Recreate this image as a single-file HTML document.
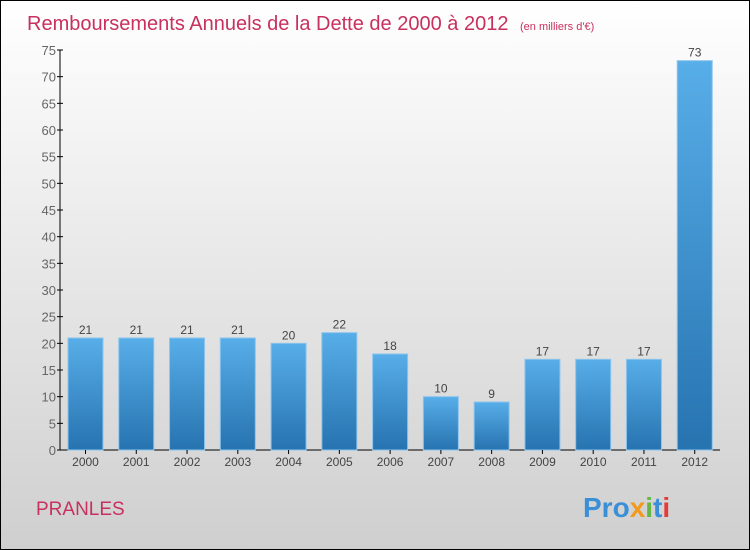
<!DOCTYPE html>
<html><head><meta charset="utf-8"><style>
body{margin:0}
#c{width:748px;height:548px;border:1px solid #000;background:linear-gradient(#fff,#cfcfcf);position:relative;font-family:"Liberation Sans",sans-serif;overflow:hidden}
</style></head><body>
<div id="c">
<svg width="748" height="548" id="s">
<defs><linearGradient id="g" x1="0" y1="0" x2="0" y2="1"><stop offset="0" stop-color="#58aee8"/><stop offset="1" stop-color="#2673b0"/></linearGradient></defs>
<text x="26" y="29" font-size="20" fill="#c8305f">Remboursements Annuels de la Dette de 2000 à 2012 <tspan font-size="11" dx="6">(en milliers d'€)</tspan></text>
<text x="35" y="514" font-size="19" fill="#c8305f">PRANLES</text>
<text x="582" y="516" font-size="28" font-weight="bold"><tspan fill="#3b8fd6">Pro</tspan><tspan fill="#f29a1e">x</tspan><tspan fill="#64b742">i</tspan><tspan fill="#3b8fd6">t</tspan><tspan fill="#e23b3b">i</tspan></text>
<g id="plot"></g>
</svg></div>
<script>
const categories=["2000","2001","2002","2003","2004","2005","2006","2007","2008","2009","2010","2011","2012"];
const values=[21,21,21,21,20,22,18,10,9,17,17,17,73];
const ticks=[0,5,10,15,20,25,30,35,40,45,50,55,60,65,70,75];
const NS="http://www.w3.org/2000/svg";
const p=document.getElementById('plot');
const x0=59,x1=719,yb=449,yt=49,ymax=75;
const y=v=>yb-(yb-yt)*v/ymax;
const slot=(x1-x0)/categories.length;
const xs=i=>x0+slot*i;
function mk(t,a,txt){const e=document.createElementNS(NS,t);for(const k in a)e.setAttribute(k,a[k]);if(txt!==undefined)e.textContent=txt;p.appendChild(e);return e;}
let e;
e=mk('line',{x1:x0,y1:yt,x2:x0,y2:yb,stroke:'#000'});


e=mk('line',{x1:x0,y1:yb,x2:x1,y2:yb,stroke:'#000'});


ticks.forEach(t=>{
 e=mk('line',{x1:x0-3,y1:y(t),x2:x0+3,y2:y(t),stroke:'#000'});
 
 
 e=mk('text',{x:x0-4,y:y(t)+5,'font-size':13,'text-anchor':'end',fill:'#666'},t);
 
 
});
values.forEach((v,i)=>{
 const bx=xs(i)+8,bw=35;
 e=mk('rect',{x:bx,y:y(v),width:bw,height:yb-y(v),fill:'url(#g)',stroke:'#8cc4ee','stroke-width':1});
 
 
 e=mk('text',{x:bx+bw/2,y:y(v)-4,'font-size':12,'text-anchor':'middle',fill:'#444'},v);
 
 
 e=mk('line',{x1:bx+bw/2,y1:yb,x2:bx+bw/2,y2:yb+4,stroke:'#000'});
 
 
 e=mk('text',{x:bx+bw/2,y:yb+16,'font-size':12,'text-anchor':'middle',fill:'#444'},categories[i]);
 
 
});
</script>
</body></html>
